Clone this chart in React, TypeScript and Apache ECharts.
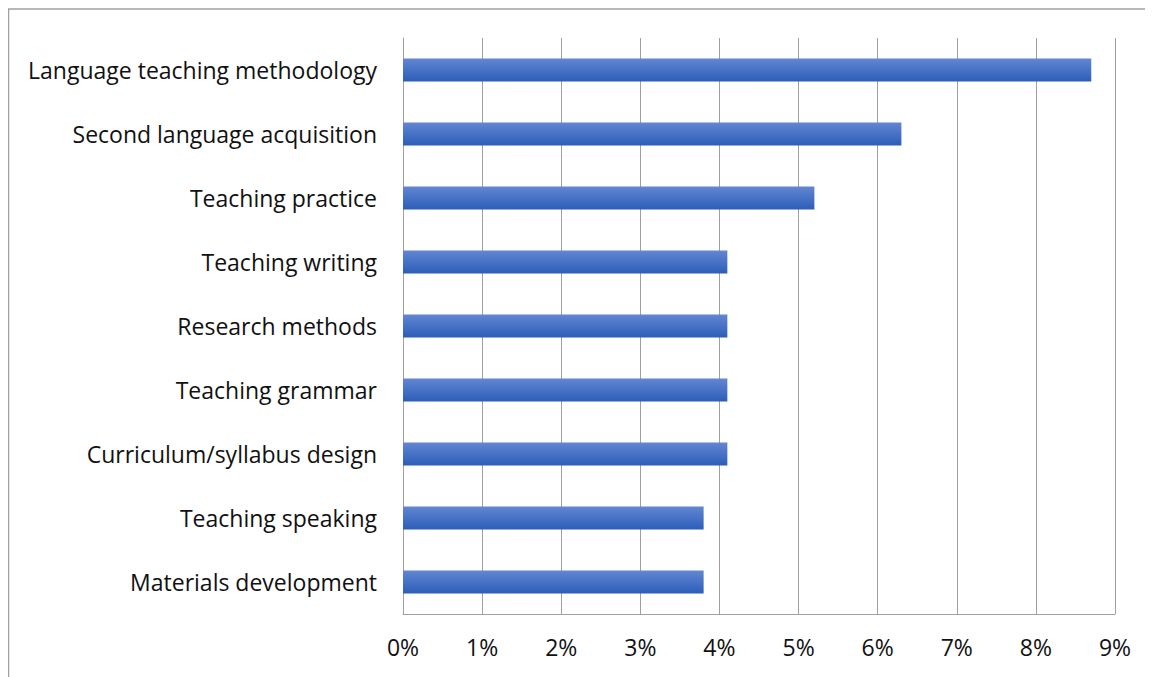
import React, { useEffect, useRef } from "react";
import * as echarts from "echarts";

const categories = [
  "Language teaching methodology",
  "Second language acquisition",
  "Teaching practice",
  "Teaching writing",
  "Research methods",
  "Teaching grammar",
  "Curriculum/syllabus design",
  "Teaching speaking",
  "Materials development",
];
const values = [8.7, 6.3, 5.2, 4.1, 4.1, 4.1, 4.1, 3.8, 3.8];

export default function App() {
  const ref = useRef<HTMLDivElement>(null);
  useEffect(() => {
    if (!ref.current) return;
    const chart = echarts.init(ref.current, null, { renderer: "svg" });
    const font = "'Open Sans', sans-serif";
    chart.setOption({
      animation: false,
      grid: { left: 395, right: 38, top: 30, bottom: 63 },
      xAxis: {
        type: "value",
        min: 0,
        max: 9,
        interval: 1,
        axisLine: { show: true, lineStyle: { color: "#a0a0a0", width: 1 } },
        axisTick: { show: false },
        axisLabel: {
          formatter: (v: number) => `${v}%`,
          color: "#111",
          fontSize: 23,
          fontFamily: font,
          margin: 21,
        },
        splitLine: { show: true, lineStyle: { color: "#a0a0a0", width: 1 } },
      },
      yAxis: {
        type: "category",
        data: categories,
        inverse: true,
        axisLine: { show: true, lineStyle: { color: "#a0a0a0", width: 1 } },
        axisTick: { show: false },
        axisLabel: {
          color: "#111",
          fontSize: 23,
          fontFamily: font,
          margin: 26,
        },
      },
      series: [
        {
          type: "bar",
          data: values,
          barWidth: 23,
          itemStyle: {
            color: new echarts.graphic.LinearGradient(0, 0, 0, 1, [
              { offset: 0, color: "#6287d2" },
              { offset: 1, color: "#2d5db9" },
            ]),
          },
        },
      ],
      graphic: [
        {
          type: "line",
          shape: { x1: 0, y1: 1, x2: 1145, y2: 1 },
          style: { stroke: "#a0a0a0", lineWidth: 1.5 },
        },
        {
          type: "line",
          shape: { x1: 0.5, y1: 1, x2: 0.5, y2: 669 },
          style: { stroke: "#a0a0a0", lineWidth: 1.5 },
        },
      ],
    });
    return () => chart.dispose();
  }, []);
  return <div ref={ref} style={{ width: 1145, height: 669 }} />;
}
